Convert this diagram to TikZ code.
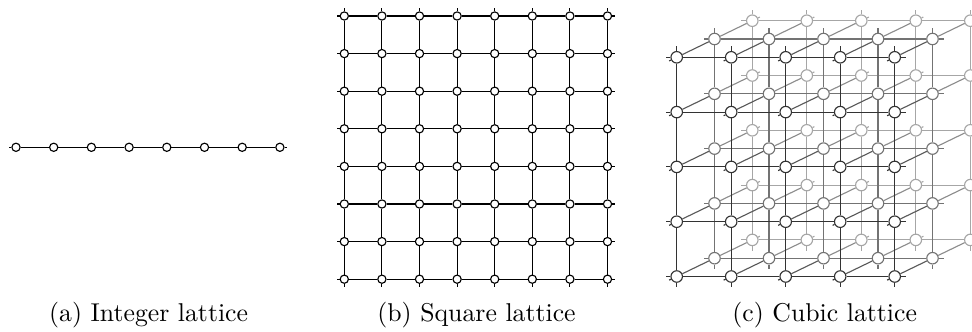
\documentclass[tikz,border=0pt]{standalone}
\usepackage{tikz}
\tikzset{
  site/.style={circle, draw=black, fill=white, inner sep=0pt, minimum size=3.3pt, line width=0.45pt},
  csite/.style={circle, fill=white, inner sep=0pt, minimum size=4.6pt, line width=0.45pt},
  bond/.style={line width=0.45pt, draw=black},
  cbond/.style={line width=0.45pt},
  captext/.style={anchor=base, inner sep=0pt, font=\fontsize{10.3}{12}\selectfont}
}
\newcommand\cubelayer[2]{%
  \foreach \i in {0,...,4}{\foreach \j in {0,...,4}{
    \node[csite,draw=#2] (c-\i-\j-#1) at ({676.7+54.5*\i+37.8*#1},{57.3+54.8*\j-18.3*#1}) {};}}
  \foreach \i in {0,...,4}{\foreach \j [count=\n from 1] in {0,...,3}{
    \draw[cbond,#2] (c-\i-\j-#1) -- (c-\i-\n-#1);
    \draw[cbond,#2] (c-\j-\i-#1) -- (c-\n-\i-#1);}}
  \foreach \i in {0,...,4}{
    \draw[cbond,#2] (c-\i-0-#1) -- ++(0,-11);
    \draw[cbond,#2] (c-\i-4-#1) -- ++(0,11);
    \draw[cbond,#2] (c-0-\i-#1) -- ++(-11,0);
    \draw[cbond,#2] (c-4-\i-#1) -- ++(11,0);}
}
\begin{document}
\begin{tikzpicture}[x=0.4pt,y=-0.4pt]
\useasboundingbox (0,0) rectangle (972,332);
% (a) integer lattice
\foreach \i in {0,...,7}{\node[site] (a\i) at ({16+37.7*\i},147.3) {};}
\foreach \i [count=\n from 1] in {0,...,6}{\draw[bond] (a\i) -- (a\n);}
\draw[bond] (a0) -- ++(-7.5,0);
\draw[bond] (a7) -- ++(7.5,0);
% (b) square lattice
\foreach \i in {0,...,7}{\foreach \j in {0,...,7}{
  \node[site] (s-\i-\j) at ({344.3+37.6*\i},{16+37.6*\j}) {};}}
\foreach \i in {0,...,7}{\foreach \j [count=\n from 1] in {0,...,6}{
  \draw[bond] (s-\i-\j) -- (s-\i-\n);
  \draw[bond] (s-\j-\i) -- (s-\n-\i);}}
\foreach \i in {0,...,7}{
  \draw[bond] (s-\i-0) -- ++(0,-7.5);
  \draw[bond] (s-\i-7) -- ++(0,7.5);
  \draw[bond] (s-0-\i) -- ++(-7.5,0);
  \draw[bond] (s-7-\i) -- ++(7.5,0);}
% (c) cubic lattice
\cubelayer{2}{black!35}
\foreach \i in {0,...,4}{\foreach \j in {0,...,4}{
  \draw[cbond,black!35] (c-\i-\j-2) -- ++(7.56,-3.66);}}
\cubelayer{1}{black!55}
\foreach \i in {0,...,4}{\foreach \j in {0,...,4}{
  \draw[cbond,black!45] (c-\i-\j-1) -- (c-\i-\j-2);}}
\cubelayer{0}{black!80}
\foreach \i in {0,...,4}{\foreach \j in {0,...,4}{
  \draw[cbond,black!65] (c-\i-\j-0) -- (c-\i-\j-1);
  \draw[cbond,black!80] (c-\i-\j-0) -- ++(-7.56,3.66);}}
% captions
\node[captext] (capa) at (148.6,321) {(a) Integer lattice};
\node[captext] (capb) at (476.5,321) {(b) Square lattice};
\node[captext] (capc) at (824.7,321) {(c) Cubic lattice};
\end{tikzpicture}
\end{document}
